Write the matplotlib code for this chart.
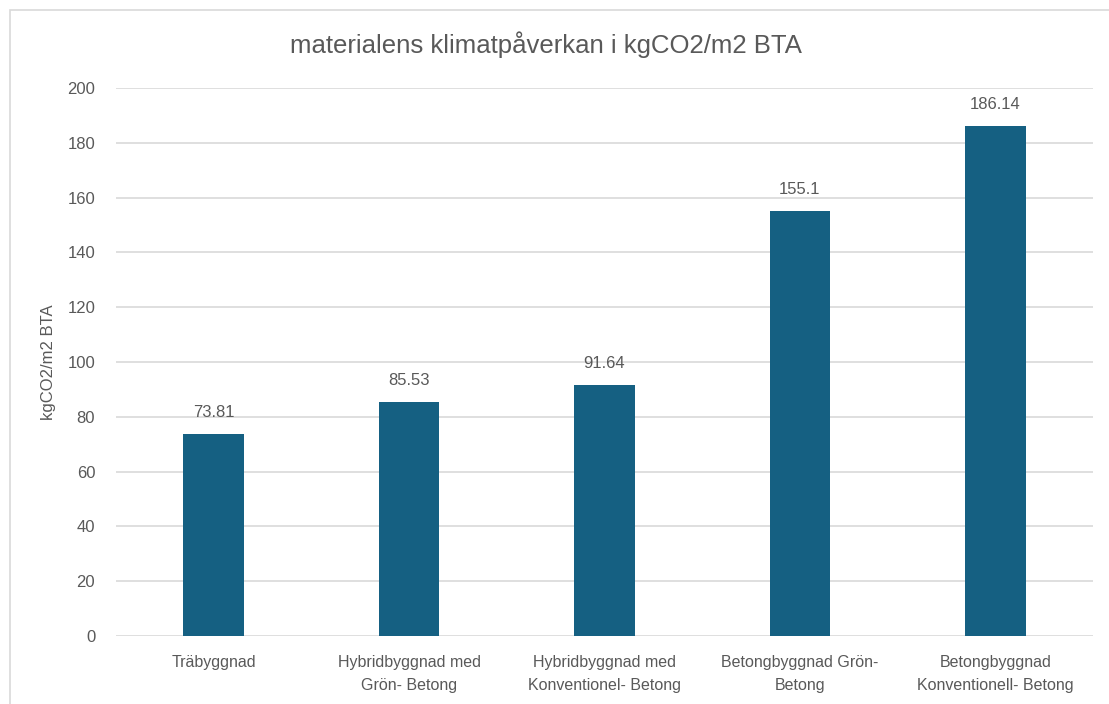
import matplotlib.pyplot as plt
from matplotlib.patches import Rectangle

# Chart data
categories = [
    "Träbyggnad",
    "Hybridbyggnad med\nGrön- Betong",
    "Hybridbyggnad med\nKonventionel- Betong",
    "Betongbyggnad Grön-\nBetong",
    "Betongbyggnad\nKonventionell- Betong",
]
values = [73.81, 85.53, 91.64, 155.1, 186.14]
value_labels = ["73.81", "85.53", "91.64", "155.1", "186.14"]
yticks = [0, 20, 40, 60, 80, 100, 120, 140, 160, 180, 200]

plt.rcParams["font.family"] = ["Liberation Sans Narrow", "Liberation Sans", "DejaVu Sans"]
text_color = "#595959"
bar_color = "#156082"
grid_color = "#d9d9d9"

fig = plt.figure(figsize=(11.09, 7.04), dpi=100)
ax = fig.add_axes([116 / 1109, 1 - 636 / 704, (1093 - 116) / 1109, (636 - 88) / 704])

# outer chart frame
fig.patches.append(Rectangle((9.5 / 1109, -0.1), 1.2, 1 - 9.5 / 704 + 0.1,
                             transform=fig.transFigure, fill=False,
                             edgecolor="#d9d9d9", linewidth=1.2))

x = list(range(len(categories)))
bars = ax.bar(x, values, width=0.31, color=bar_color, zorder=3)

for xi, v, lab in zip(x, values, value_labels):
    ax.annotate(lab, (xi, v), xytext=(0, 10), textcoords="offset points",
                ha="center", va="bottom", fontsize=12, color=text_color)

ax.set_xlim(-0.5, len(categories) - 0.5)
ax.set_ylim(0, 200)
ax.set_yticks(yticks)
ax.set_xticks(x)
ax.set_xticklabels(categories, fontsize=11.5, color=text_color, linespacing=1.6)
ax.tick_params(axis="both", length=0, labelsize=12, colors=text_color)
ax.tick_params(axis="x", labelsize=11.5, pad=14)
ax.tick_params(axis="y", pad=15)
ax.grid(axis="y", color=grid_color, linewidth=1.2, zorder=0)
for s in ax.spines.values():
    s.set_visible(False)

ax.set_ylabel("kgCO2/m2 BTA", fontsize=12, color=text_color)
ax.yaxis.set_label_coords(-0.061, 0.5)
fig.text(0.492, 1 - 45 / 704, "materialens klimatpåverkan i kgCO2/m2 BTA",
         ha="center", va="center", fontsize=18.5, color=text_color)

fig.savefig("out.png", dpi=100)
